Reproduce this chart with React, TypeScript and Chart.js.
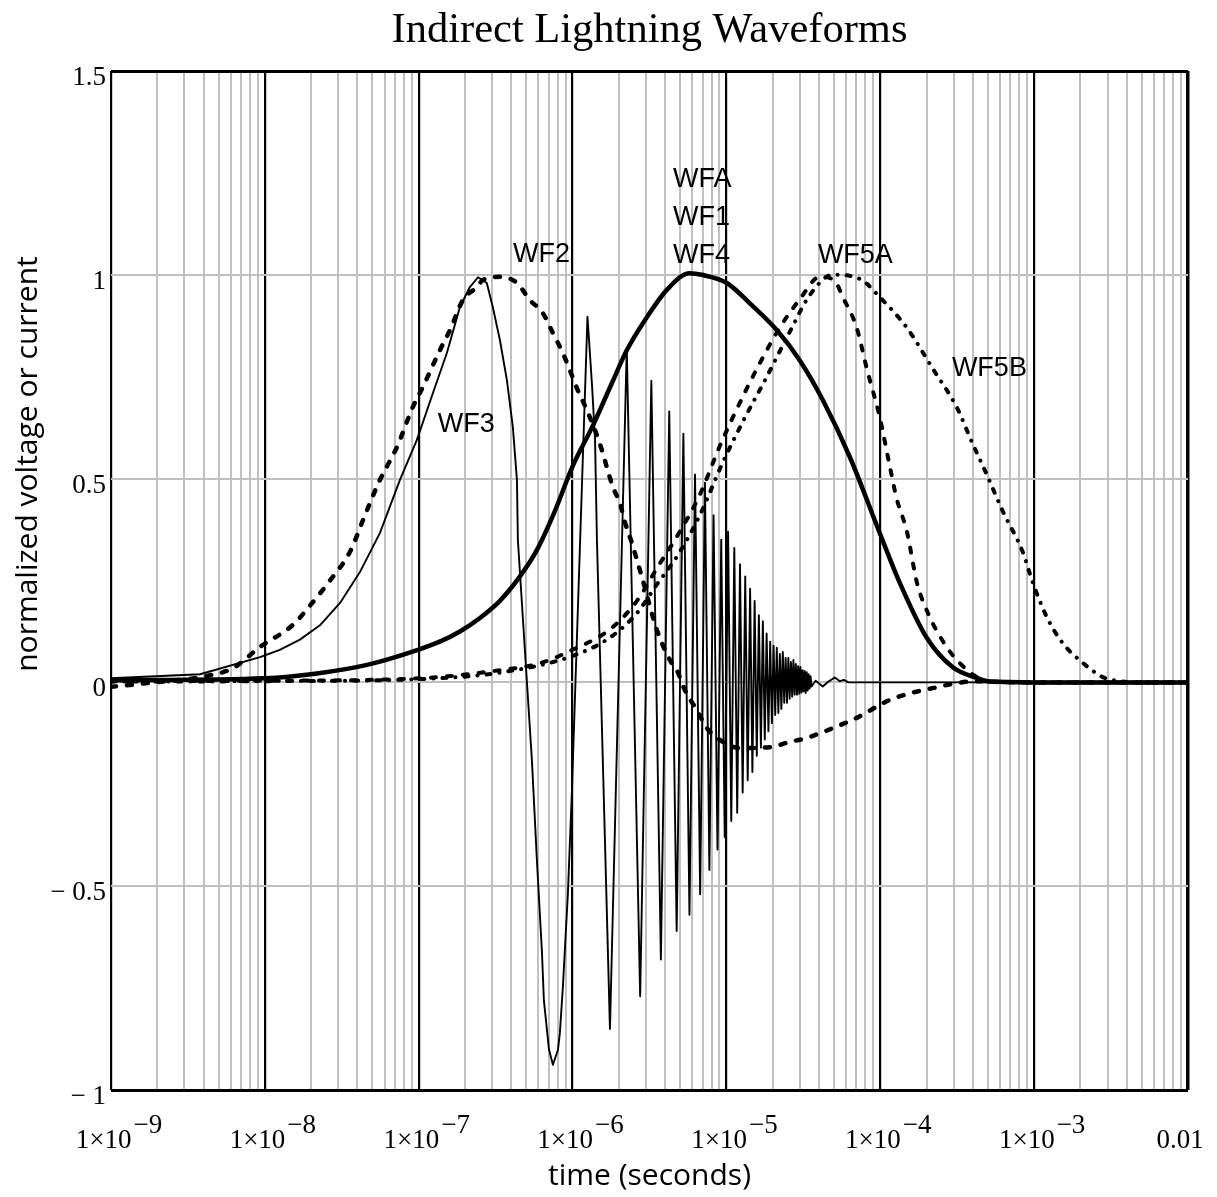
import React, { useEffect, useRef } from "react";
import { Chart, registerables } from "chart.js";

Chart.register(...registerables);

const CANVAS_W = 1217;
const CANVAS_H = 1197;

// ---- axis ranges and tick labels ----
const xMin = 1e-9;
const xMax = 1e-2;
const yMin = -1;
const yMax = 1.5;

const xDecades = [1e-9, 1e-8, 1e-7, 1e-6, 1e-5, 1e-4, 1e-3, 1e-2];
const xTickBase = ["1×10", "1×10", "1×10", "1×10", "1×10", "1×10", "1×10", "0.01"];
const xTickExp = ["−9", "−8", "−7", "−6", "−5", "−4", "−3", ""];

const yTicks = [-1, -0.5, 0, 0.5, 1, 1.5];
const yTickLabels = ["− 1", "− 0.5", "0", "0.5", "1", "1.5"];

// ---- waveform samples (time in seconds, normalized amplitude) ----

// WF2: voltage waveform, dashed
const wf2Time = [
  1e-9, 1.79e-9, 3.79e-9, 6.2e-9, 9.3e-9, 1.52e-8, 1.96e-8, 2.65e-8, 3.57e-8, 4.47e-8,
  5.6e-8, 7.21e-8, 9.17e-8, 1.065e-7, 1.373e-7, 1.596e-7, 1.938e-7, 2.39e-7, 2.61e-7, 3.37e-7,
  4.35e-7, 5.28e-7, 6.41e-7, 7.45e-7, 8.65e-7, 9.6e-7, 1.08e-6, 1.24e-6, 1.5e-6, 1.83e-6,
  2.03e-6, 2.19e-6, 2.43e-6, 2.62e-6, 2.82e-6, 3.53e-6, 4.29e-6, 4.76e-6, 5.37e-6, 6.42e-6,
  7.46e-6, 9.06e-6, 1.22e-5, 1.92e-5, 2.47e-5, 3.33e-5, 4.23e-5, 5.46e-5, 7.03e-5, 1.153e-4,
  2.19e-4, 4.24e-4, 6e-4, 1e-3, 1e-2,
];
const wf2Value = [
  -0.011, -0.001, 0.013, 0.035, 0.087, 0.141, 0.188, 0.25, 0.32, 0.41,
  0.497, 0.577, 0.676, 0.725, 0.815, 0.864, 0.938, 0.97, 0.987, 0.995,
  0.98, 0.938, 0.906, 0.857, 0.808, 0.766, 0.717, 0.668, 0.587, 0.479,
  0.44, 0.393, 0.342, 0.3, 0.259, 0.129, 0.055, 0.03, -0.019, -0.068,
  -0.112, -0.141, -0.161, -0.159, -0.148, -0.136, -0.122, -0.105, -0.087, -0.043,
  -0.014, 0.003, 0.001, 0, 0,
];

// WF3: damped 1 MHz oscillation, thin solid (first cycle sampled densely)
const wf3StartTime = [
  1e-9, 3.79e-9, 9.3e-9, 1.25e-8, 1.69e-8, 2.28e-8, 3.08e-8, 4.14e-8, 5.6e-8, 7.55e-8,
  9.73e-8, 1.237e-7, 1.524e-7, 1.853e-7, 2.15e-7, 2.43e-7, 2.77e-7, 3.03e-7, 3.37e-7, 3.74e-7,
  4.09e-7, 4.35e-7, 4.41e-7, 5.44e-7, 5.87e-7, 6.32e-7, 6.51e-7, 7.02e-7, 7.45e-7, 8.03e-7,
  8.27e-7, 8.65e-7, 9.33e-7, 9.89e-7, 1.25e-6, 1.34e-6, 1.4e-6, 1.44e-6,
];
const wf3StartValue = [
  0.01, 0.02, 0.062, 0.08, 0.105, 0.14, 0.195, 0.27, 0.367, 0.497,
  0.595, 0.71, 0.808, 0.921, 0.97, 0.994, 0.98, 0.921, 0.84, 0.742,
  0.627, 0.497, 0.35, -0.19, -0.44, -0.66, -0.78, -0.9, -0.938, -0.902,
  -0.86, -0.747, -0.516, -0.271, 0.897, 0.725, 0.595, 0.35,
];
// later extrema of the ringing (microseconds)
const wf3RingTimeUs = [
  1.75, 2.25, 2.75, 3.25, 3.75, 4.25, 4.75, 5.25, 5.75, 6.25,
  6.75, 7.25, 7.75, 8.25, 8.75, 9.25, 9.75, 10.25, 10.75, 11.25,
  11.75, 12.25, 12.75, 13.25, 13.75, 14.25, 14.75, 15.25, 15.75, 16.25,
  16.75, 17.25, 17.75, 18.25, 18.75, 19.25, 19.75, 20.25, 20.75, 21.25,
  21.75, 22.25, 22.75, 23.25, 23.75, 24.25, 24.75, 25.25, 25.75, 26.25,
  26.75, 27.25, 27.75, 28.25, 28.75, 29.25, 29.75, 30.25, 30.75, 31.25,
  31.75, 32.25, 32.75, 33.25, 33.75, 34.25, 34.75, 35.25, 35.75,
  38, 42.3, 46, 50.6, 54.6, 58, 62, 1e4,
];
const wf3RingValue = [
  -0.85, 0.82, -0.77, 0.74, -0.68, 0.665, -0.61, 0.61, -0.57, 0.51,
  -0.52, 0.49, -0.46, 0.41, -0.41, 0.35, -0.38, 0.37, -0.34, 0.33,
  -0.32, 0.29, -0.27, 0.26, -0.24, 0.23, -0.22, 0.2, -0.18, 0.165,
  -0.16, 0.15, -0.14, 0.12, -0.12, 0.1, -0.1, 0.09, -0.08, 0.085,
  -0.075, 0.07, -0.065, 0.075, -0.05, 0.06, -0.05, 0.06, -0.04, 0.05,
  -0.035, 0.055, -0.03, 0.045, -0.03, 0.04, -0.028, 0.038, -0.025, 0.03,
  -0.022, 0.028, -0.026, 0.025, -0.02, 0.02, -0.015, 0.015, -0.01,
  0.004, -0.01, 0.002, 0.012, 0.003, 0.006, 0.0, 0.0,
];

// WFA / WF1 / WF4: thick solid
const wfaTime = [
  1e-9, 1e-8, 2.18e-8, 4.61e-8, 9.88e-8, 1.37e-7, 1.853e-7, 2.5e-7, 3.37e-7, 4.55e-7,
  5.87e-7, 7.67e-7, 1e-6, 1.355e-6, 1.83e-6, 2.25e-6, 3.04e-6, 4.1e-6, 5.78e-6, 6.92e-6,
  1.006e-5, 1.42e-5, 2.13e-5, 3.0e-5, 4.23e-5, 6.34e-5, 9.93e-5, 1.34e-4, 2.0e-4, 2.96e-4,
  4.24e-4, 5.14e-4, 1e-3, 1e-2,
];
const wfaValue = [
  0.005, 0.01, 0.022, 0.043, 0.08, 0.1, 0.125, 0.158, 0.2, 0.26,
  0.325, 0.42, 0.53, 0.63, 0.74, 0.815, 0.896, 0.963, 1.004, 1.0,
  0.98, 0.93, 0.864, 0.79, 0.693, 0.553, 0.366, 0.244, 0.11, 0.037,
  0.011, 0.002, 0, 0,
];

// WF5A: dashed
const wf5aTime = [
  1e-9, 1e-8, 1e-7, 3.37e-7, 6.14e-7, 1e-6, 1.75e-6, 2.62e-6, 3.53e-6, 4.98e-6,
  6.71e-6, 9.06e-6, 1.1e-5, 1.58e-5, 2.22e-5, 3.0e-5, 4.05e-5, 5.06e-5, 5.71e-5, 7.03e-5,
  8.17e-5, 9.93e-5, 1.153e-4, 1.28e-4, 1.49e-4, 1.73e-4, 2.1e-4, 2.7e-4, 3.29e-4, 4.24e-4,
  5.14e-4, 1e-3, 1e-2,
];
const wf5aValue = [
  0.003, 0.004, 0.01, 0.03, 0.047, 0.08, 0.13, 0.2, 0.28, 0.37,
  0.46, 0.58, 0.65, 0.77, 0.87, 0.94, 0.995, 0.985, 0.945, 0.87,
  0.77, 0.65, 0.53, 0.45, 0.37, 0.245, 0.16, 0.087, 0.047, 0.013,
  0.002, 0, 0,
];

// WF5B: dash-dot
const wf5bTime = [
  1e-9, 1e-8, 1e-7, 3.37e-7, 1e-6, 1.75e-6, 2.62e-6, 3.53e-6, 4.98e-6, 6.71e-6,
  9.48e-6, 1.28e-5, 1.83e-5, 2.58e-5, 3.48e-5, 4.91e-5, 7.36e-5, 9.93e-5, 1.49e-4, 2.19e-4,
  3.14e-4, 3.99e-4, 4.92e-4, 6.25e-4, 8.43e-4, 9.8e-4, 1.21e-3, 1.53e-3, 2.07e-3, 2.79e-3,
  3.44e-3, 5e-3, 1e-2,
];
const wf5bValue = [
  0.002, 0.003, 0.008, 0.024, 0.065, 0.11, 0.17, 0.24, 0.32, 0.41,
  0.54, 0.64, 0.75, 0.86, 0.95, 1.0, 0.99, 0.945, 0.87, 0.77,
  0.675, 0.585, 0.51, 0.42, 0.32, 0.245, 0.16, 0.097, 0.048, 0.013,
  0.004, 0, 0,
];

// ---- curve annotations (anchored in data units: left edge time, baseline value) ----
const curveLabels = ["WF2", "WF3", "WFA", "WF1", "WF4", "WF5A", "WF5B"];
const curveLabelTime = [4.1e-7, 1.33e-7, 4.49e-6, 4.49e-6, 4.49e-6, 3.93e-5, 2.92e-4];
const curveLabelValue = [1.031, 0.614, 1.215, 1.122, 1.029, 1.029, 0.752];

const toPoints = (ts: number[], vs: number[]) => ts.map((t, i) => ({ x: t, y: vs[i] }));

// grid positions: 1..9 per decade on the time axis
const xGridValues: number[] = [];
for (let e = -9; e <= -3; e++) {
  for (let m = 1; m <= 9; m++) xGridValues.push(Number((m * Math.pow(10, e)).toPrecision(3)));
}
xGridValues.push(1e-2);

const isDecade = (v: number) => {
  const l = Math.log10(v);
  return Math.abs(l - Math.round(l)) < 1e-6;
};

const SERIF = "'Liberation Serif', 'Times New Roman', serif";
const SANS = "'Liberation Sans', Arial, sans-serif";
const TITLE_SANS = "'Open Sans', 'Noto Sans', sans-serif";

const decorPlugin = {
  id: "decor",
  beforeDraw(chart: any) {
    const { ctx } = chart;
    ctx.save();
    ctx.fillStyle = "#ffffff";
    ctx.fillRect(0, 0, chart.width, chart.height);
    ctx.restore();
  },
  afterDraw(chart: any) {
    const { ctx, chartArea } = chart;
    const xs = chart.scales.x;
    const ys = chart.scales.y;
    ctx.save();
    ctx.fillStyle = "#000";

    // title
    ctx.font = `42.5px ${SERIF}`;
    ctx.textAlign = "center";
    ctx.textBaseline = "alphabetic";
    ctx.fillText("Indirect Lightning Waveforms", (chartArea.left + chartArea.right) / 2, 42);

    // y tick labels
    ctx.font = `27px ${SERIF}`;
    ctx.textAlign = "right";
    ctx.textBaseline = "middle";
    yTicks.forEach((v, i) => {
      ctx.fillText(yTickLabels[i], chartArea.left - 5, ys.getPixelForValue(v) + 7);
    });

    // x tick labels with superscript exponents
    ctx.textAlign = "left";
    ctx.textBaseline = "alphabetic";
    xDecades.forEach((v, i) => {
      const px = xs.getPixelForValue(v);
      ctx.font = `27px ${SERIF}`;
      const base = xTickBase[i];
      const exp = xTickExp[i];
      const wb = ctx.measureText(base).width;
      const we = exp ? ctx.measureText(exp).width + 2 : 0;
      const total = wb + we;
      const cx = exp ? px + 8 : px - 8;
      const x0 = cx - total / 2;
      ctx.fillText(base, x0, 1148);
      if (exp) ctx.fillText(exp, x0 + wb + 2, 1133);
    });

    // axis titles
    ctx.font = `30px ${TITLE_SANS}`;
    ctx.textAlign = "center";
    ctx.textBaseline = "middle";
    ctx.fillText("time (seconds)", (chartArea.left + chartArea.right) / 2, 1176);
    ctx.save();
    ctx.translate(28, 464);
    ctx.rotate(-Math.PI / 2);
    ctx.fillText("normalized voltage or current", 0, 0);
    ctx.restore();

    // curve annotations
    ctx.font = `27px ${SANS}`;
    ctx.textAlign = "left";
    ctx.textBaseline = "alphabetic";
    curveLabels.forEach((t, i) => {
      ctx.fillText(t, xs.getPixelForValue(curveLabelTime[i]), ys.getPixelForValue(curveLabelValue[i]));
    });
    ctx.restore();
  },
};

export default function App() {
  const canvasRef = useRef<HTMLCanvasElement | null>(null);

  useEffect(() => {
    if (!canvasRef.current) return;
    const wf3Data = [
      ...toPoints(wf3StartTime, wf3StartValue),
      ...toPoints(wf3RingTimeUs.map((t) => t * 1e-6), wf3RingValue),
    ];
    const common = {
      pointRadius: 0,
      pointHoverRadius: 0,
      fill: false,
      borderColor: "#000",
      borderJoinStyle: "round" as const,
    };
    const smooth = { ...common, cubicInterpolationMode: "monotone" as const };
    const chart = new Chart(canvasRef.current, {
      type: "line",
      data: {
        datasets: [
          { ...smooth, label: "WF2", data: toPoints(wf2Time, wf2Value), borderWidth: 4.5, borderDash: [5, 11], borderCapStyle: "round" },
          { ...smooth, label: "WF5A", data: toPoints(wf5aTime, wf5aValue), borderWidth: 4, borderDash: [5, 11], borderCapStyle: "round" },
          { ...smooth, label: "WF5B", data: toPoints(wf5bTime, wf5bValue), borderWidth: 4, borderDash: [4, 9, 0.1, 9], borderCapStyle: "round" },
          { ...smooth, label: "WFA", data: toPoints(wfaTime, wfaValue), borderWidth: 4.5 },
          { ...common, label: "WF3", data: wf3Data, borderWidth: 1.9, tension: 0 },
        ],
      },
      options: {
        responsive: false,
        animation: false,
        events: [],
        layout: { padding: { left: 111, right: CANVAS_W - 1188, top: 71, bottom: CANVAS_H - 1090 } },
        plugins: { legend: { display: false }, tooltip: { enabled: false }, title: { display: false } },
        scales: {
          x: {
            type: "logarithmic",
            min: xMin,
            max: xMax,
            afterBuildTicks: (scale: any) => {
              scale.ticks = xGridValues.map((v) => ({ value: v }));
            },
            ticks: { display: false },
            border: { display: false },
            grid: {
              drawTicks: false,
              color: (c: any) => (c.tick && isDecade(c.tick.value) ? "#000000" : "#c0c0c0"),
              lineWidth: (c: any) => (c.tick && c.tick.value >= 0.0099 ? 3.5 : c.tick && isDecade(c.tick.value) ? 2.2 : 2),
            },
          },
          y: {
            type: "linear",
            min: yMin,
            max: yMax,
            afterBuildTicks: (scale: any) => {
              scale.ticks = yTicks.map((v) => ({ value: v }));
            },
            ticks: { display: false },
            border: { display: false },
            grid: {
              drawTicks: false,
              color: (c: any) => (c.tick && (c.tick.value === yMin || c.tick.value === yMax) ? "#000000" : "#c0c0c0"),
              lineWidth: (c: any) => (c.tick && (c.tick.value === yMin || c.tick.value === yMax) ? 3 : 2),
            },
          },
        },
      },
      plugins: [decorPlugin],
    } as any);
    return () => chart.destroy();
  }, []);

  return (
    <div style={{ position: "fixed", left: 0, top: 0, width: CANVAS_W, height: CANVAS_H, background: "#fff" }}>
      <canvas ref={canvasRef} width={CANVAS_W} height={CANVAS_H} style={{ width: CANVAS_W, height: CANVAS_H, display: "block" }} />
    </div>
  );
}
